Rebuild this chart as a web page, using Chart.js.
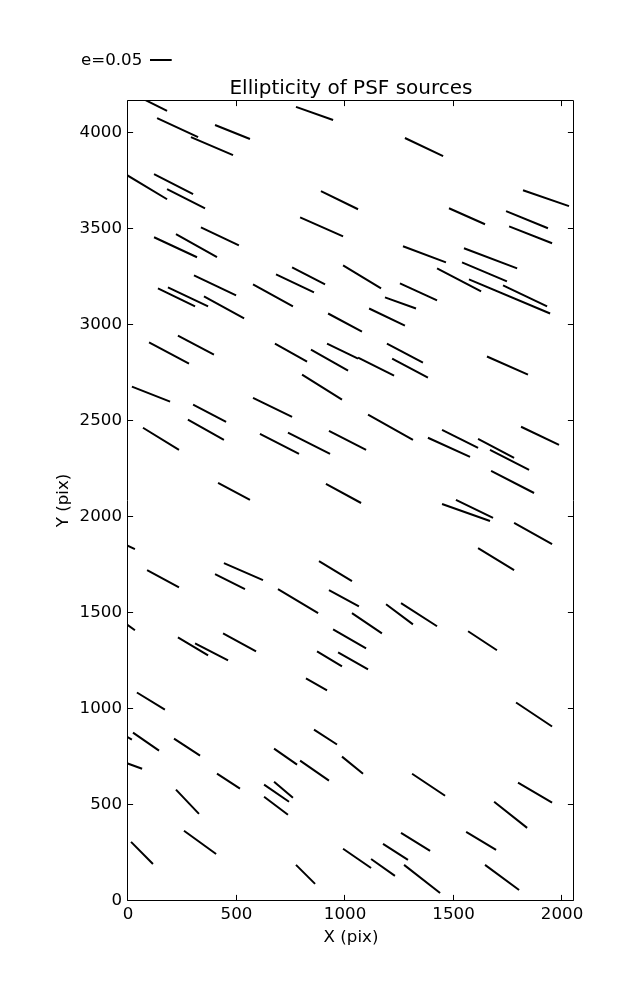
<!DOCTYPE html>
<html>
<head>
<meta charset="utf-8">
<script src="https://cdn.jsdelivr.net/npm/chart.js@4.4.1/dist/chart.umd.min.js"></script>
<style>
  body { margin: 0; background: #fff; }
  canvas { display: block; }
</style>
</head>
<body>
<canvas id="myChart" width="637" height="1000"></canvas>
<script>
// whisker endpoints, in detector pixels (x0,y0) -> (x1,y1)
var x0 = [69, 134, 290, 401, 774, -5, 120, 180, 889, 793, 120, 221, 336, 991, 756, 682, 304, 138, 184, 350,
  576, 1276, 1820, 1479, 1742, 1756, 1267, 1548, 1539, 1424, 1571, 1728, 922, 230, 97, 677, 843, 917, 1060, 802,
  18, 576, 300, 276, 69, 608, 737, 926, 415, 912, 1184, 1253, 1111, 1193, 1217, 1654, 1106, 1447, 1382, 1613,
  1668, 1811, 1673, 1511, 1447, 1779, 1613, 880, 926, 1032, 1189, 1258, 945, 871, 968, 1567, -30, 88, 442, 401,
  691, -30, 230, 309, 438, 820, 41, 23, -20, 212, -15, 410, 221, 673, 793, 857, 986, 627, 673, 627,
  258, 14, 774, 991, 1788, 1309, 1797, 1687, 1258, 1175, 1120, 1272, 1558, 1645];
var y0 = [4178, 4078, 3979, 4042, 4136, 3781, 3786, 3708, 3697, 3561, 3457, 3473, 3509, 3311, 3300, 3264, 3259, 3191, 3196, 3149,
  3212, 3974, 3702, 3608, 3593, 3514, 3410, 3400, 3326, 3295, 3238, 3206, 3060, 2945, 2909, 2903, 2872, 2903, 2830, 2742,
  2679, 2621, 2585, 2507, 2465, 2433, 2439, 2449, 2178, 2172, 3144, 3217, 3086, 2903, 2825, 2836, 2533, 2454, 2413, 2407,
  2350, 2470, 2240, 2089, 2068, 1969, 1838, 1770, 1619, 1499, 1546, 1551, 1415, 1300, 1295, 1405, 1865, 1723, 1760, 1702,
  1624, 1462, 1373, 1342, 1394, 1159, 1086, 877, 865, 846, 722, 663, 580, 794, 731, 893, 752, 606, 621, 543,
  366, 308, 188, 272, 1034, 663, 616, 517, 355, 298, 219, 188, 360, 188];
var x1 = [180, 323, 484, 562, 945, 180, 300, 355, 1060, 991, 318, 410, 511, 1166, 908, 857, 498, 309, 369, 535,
  760, 1452, 2032, 1645, 1935, 1954, 1465, 1793, 1746, 1627, 1945, 1931, 1078, 396, 281, 825, 1014, 1060, 1226, 986,
  194, 756, 452, 442, 235, 788, 931, 1097, 562, 1074, 1327, 1424, 1276, 1359, 1382, 1843, 1313, 1613, 1576, 1779,
  1848, 1986, 1871, 1682, 1668, 1954, 1779, 1032, 1064, 1170, 1313, 1424, 1097, 986, 1106, 1700, 32, 235, 622, 539,
  876, 32, 369, 461, 590, 917, 170, 143, 18, 332, 65, 516, 327, 779, 926, 963, 1083, 742, 760, 737,
  406, 115, 862, 1120, 1954, 1461, 1954, 1839, 1392, 1290, 1230, 1438, 1696, 1802];
var y1 = [4115, 3979, 3885, 3969, 4068, 3655, 3682, 3608, 3603, 3462, 3353, 3353, 3415, 3191, 3212, 3170, 3154, 3097, 3097, 3034,
  3097, 3880, 3619, 3525, 3504, 3426, 3326, 3295, 3227, 3175, 3060, 3097, 2966, 2846, 2799, 2809, 2762, 2825, 2736, 2611,
  2601, 2522, 2496, 2402, 2350, 2329, 2329, 2350, 2089, 2073, 3086, 3128, 2997, 2804, 2726, 2742, 2402, 2360, 2313, 2308,
  2245, 2376, 2125, 1995, 1979, 1859, 1723, 1666, 1535, 1394, 1441, 1431, 1316, 1222, 1206, 1306, 1833, 1634, 1671, 1624,
  1499, 1410, 1279, 1253, 1300, 1097, 997, 783, 841, 757, 689, 585, 454, 710, 627, 815, 663, 517, 538, 449,
  245, 193, 89, 172, 909, 548, 512, 381, 261, 214, 131, 42, 266, 57];

var xTicks = [0, 500, 1000, 1500, 2000];
var yTicks = [0, 500, 1000, 1500, 2000, 2500, 3000, 3500, 4000];
var keyE = 0.05;      // ellipticity shown by the key
var eScale = 2000;    // pixels of whisker per unit ellipticity

var FONT = "'DejaVu Sans', sans-serif";

var pts = [];
for (var i = 0; i < x0.length; i++) {
  pts.push({x: x0[i], y: y0[i]});
  pts.push({x: x1[i], y: y1[i]});
  pts.push({x: x1[i], y: null});
}

// matplotlib-ish frame with inward ticks + the e=0.05 key
var frameTicks = {
  id: 'frameTicks',
  afterDraw: function(chart) {
    var ctx = chart.ctx, a = chart.chartArea;
    var xs = chart.scales.x, ys = chart.scales.y;
    var L = Math.round(a.left) - 0.5, R = Math.round(a.right) - 0.5;
    var T = Math.round(a.top) + 0.5, B = Math.round(a.bottom) - 0.5;
    ctx.save();
    ctx.strokeStyle = '#000';
    ctx.lineWidth = 1;
    ctx.beginPath();
    xTicks.forEach(function(v) {
      var px = Math.round(xs.getPixelForValue(v)) - 0.5;
      ctx.moveTo(px, B); ctx.lineTo(px, B - 5.6);
      ctx.moveTo(px, T); ctx.lineTo(px, T + 5.6);
    });
    yTicks.forEach(function(v) {
      var py = Math.round(ys.getPixelForValue(v)) - 0.5;
      ctx.moveTo(L, py); ctx.lineTo(L + 5.6, py);
      ctx.moveTo(R, py); ctx.lineTo(R - 5.6, py);
    });
    ctx.rect(L, T, R - L, B - T);
    ctx.stroke();

    ctx.fillStyle = '#000';
    ctx.font = '16.67px ' + FONT;
    ctx.textBaseline = 'middle';
    ctx.textAlign = 'left';
    ctx.fillText('e=0.05', 81, 61);
    var len = xs.getPixelForValue(keyE * eScale) - xs.getPixelForValue(0);
    ctx.lineWidth = 2;
    ctx.beginPath();
    ctx.moveTo(150, 60);
    ctx.lineTo(150 + len, 60);
    ctx.stroke();
    ctx.restore();
  }
};

var keepTicks = function(list) {
  return function(axis) {
    axis.ticks = list.map(function(v) { return {value: v}; });
  };
};
var plain = function(v) { return String(v); };

var ctx = document.getElementById('myChart').getContext('2d');
var myChart = new Chart(ctx, {
  type: 'scatter',
  data: {
    datasets: [{
      data: pts,
      showLine: true,
      spanGaps: false,
      borderColor: '#000',
      borderWidth: 2,
      borderCapStyle: 'butt',
      pointRadius: 0,
      pointHoverRadius: 0
    }]
  },
  options: {
    responsive: false,
    animation: false,
    layout: {padding: {left: 0, right: 63, top: 0, bottom: 0}},
    plugins: {
      legend: {display: false},
      tooltip: {enabled: false},
      title: {
        display: true,
        text: 'Ellipticity of PSF sources',
        color: '#000',
        fullSize: false,
        font: {family: FONT, size: 20, weight: 'normal', lineHeight: 1.0},
        padding: {top: 79, bottom: 1}
      }
    },
    scales: {
      x: {
        type: 'linear',
        min: 0,
        max: 2055,
        afterBuildTicks: keepTicks(xTicks),
        afterFit: function(s) { s.height = 99; },
        grid: {display: false, drawTicks: false},
        border: {display: false},
        ticks: {color: '#000', padding: 4, autoSkip: false, maxRotation: 0, callback: plain,
                font: {family: FONT, size: 16.67}},
        title: {display: true, text: 'X (pix)', color: '#000',
                font: {family: FONT, size: 16.67}, padding: {top: 0, bottom: 52}}
      },
      y: {
        type: 'linear',
        min: 0,
        max: 4172,
        afterBuildTicks: keepTicks(yTicks),
        afterFit: function(s) { s.width = 128; },
        grid: {display: false, drawTicks: false},
        border: {display: false},
        ticks: {color: '#000', padding: 6, autoSkip: false, callback: plain,
                font: {family: FONT, size: 16.67}},
        title: {display: true, text: 'Y (pix)', color: '#000',
                font: {family: FONT, size: 16.67}, padding: {top: 54, bottom: 0}}
      }
    }
  },
  plugins: [frameTicks]
});
</script>
</body>
</html>
